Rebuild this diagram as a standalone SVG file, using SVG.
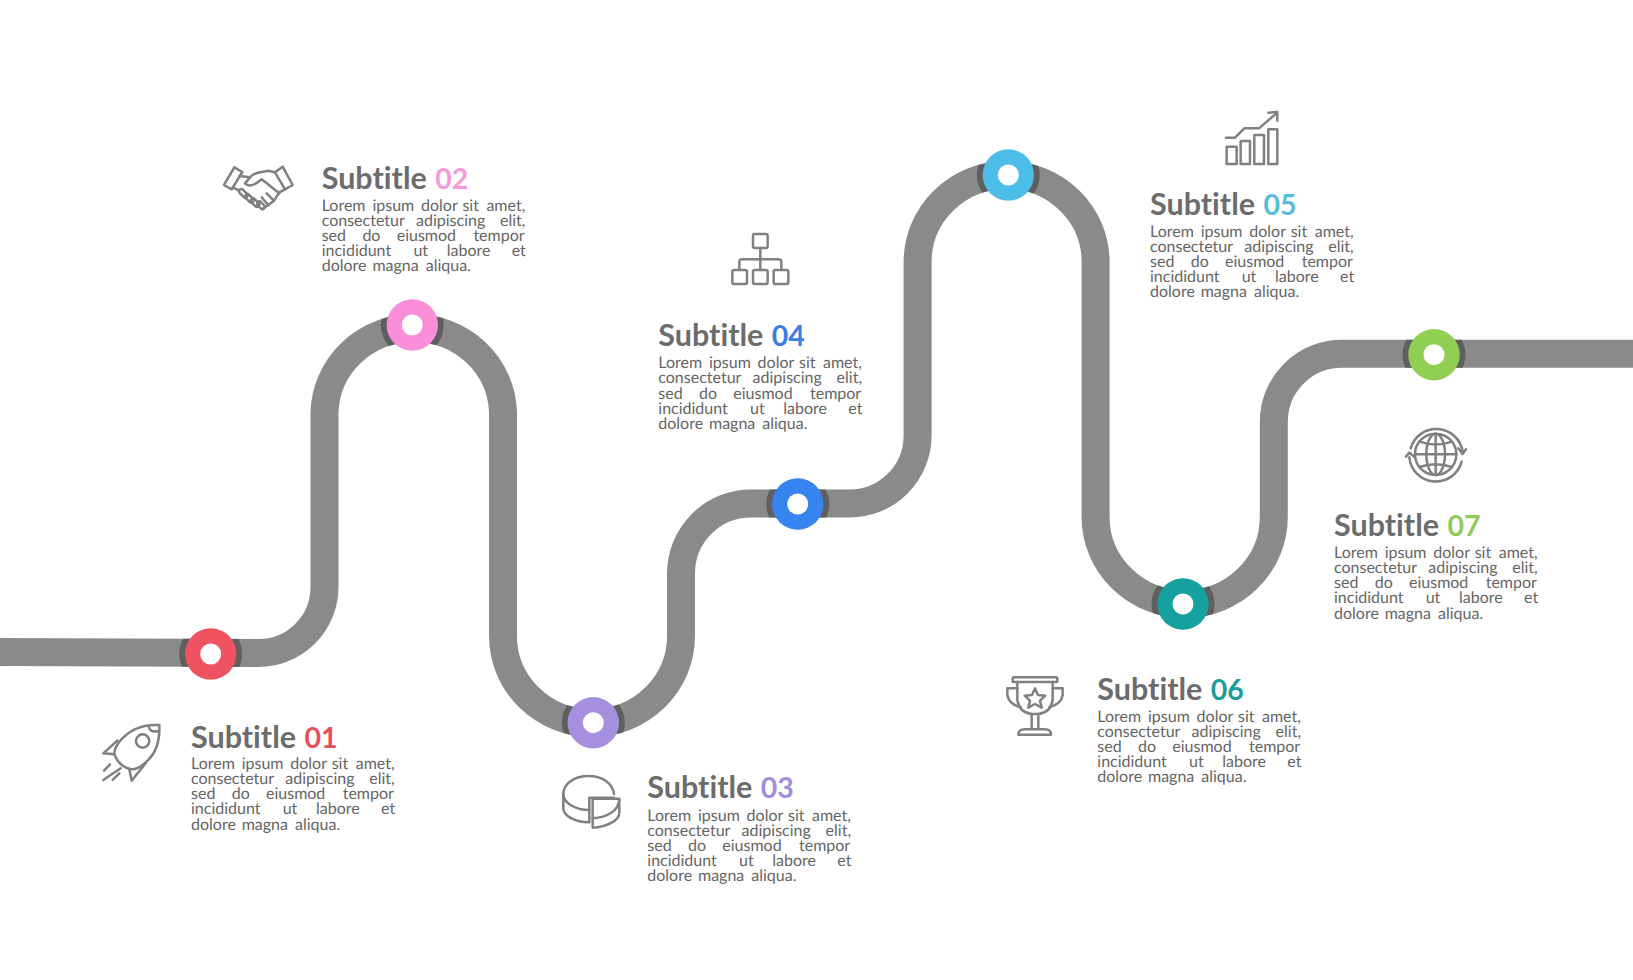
<svg xmlns="http://www.w3.org/2000/svg" width="1633" height="980" viewBox="0 0 1633 980">
<style>
.t{font-family:"Lato","Open Sans",sans-serif;font-size:30.5px;font-weight:700;fill:#6c6c6c;font-variant-ligatures:none}
.n{font-size:28.5px}
.b{font-family:"Lato","Open Sans",sans-serif;font-size:16px;fill:#656565;font-variant-ligatures:none;text-rendering:geometricPrecision}
.i{fill:none;stroke:#808080;stroke-width:7.5;stroke-linejoin:round;stroke-linecap:round}
.road{fill:none;stroke:#8a8a8a;stroke-width:28}
.sh{fill:#5f5f5f}
.hole{fill:#fff}
</style>
<defs>
<path id="roadPath" d="M0,652 L258,653 A66,66 0 0 0 324.5,587 V412 A89.3,87 0 0 1 503,412 V636 A89,87 0 0 0 681,636 V573 A70,70 0 0 1 751,503.5 H849.6 A68,68 0 0 0 917.6,436 V262 A89,87 0 0 1 1095.6,262 V517 A89,87 0 0 0 1273.8,517 V422 A68,68 0 0 1 1341.8,353.8 H1633"/>
<mask id="roadMask" maskUnits="userSpaceOnUse" x="0" y="0" width="1633" height="980"><use href="#roadPath" fill="none" stroke="#fff" stroke-width="28"/></mask>
</defs>
<rect width="1633" height="980" fill="#fff"/>
<g id="connectors">
<use href="#roadPath" class="road"/>
<g mask="url(#roadMask)">
<circle class="sh" cx="210.7" cy="654" r="31.5"/>
<circle class="sh" cx="412.3" cy="325" r="31.5"/>
<circle class="sh" cx="593.3" cy="722.7" r="31.5"/>
<circle class="sh" cx="797.7" cy="504" r="31.5"/>
<circle class="sh" cx="1008.3" cy="175" r="31.5"/>
<circle class="sh" cx="1183" cy="604" r="31.5"/>
<circle class="sh" cx="1434" cy="354.7" r="31.5"/>
</g>
</g>
<g id="node-01">
<circle cx="210.7" cy="654" r="25.7" fill="#ef5261"/><circle class="hole" cx="210.7" cy="654" r="10.5"/>
<g class="i" transform="translate(0,600) scale(.3333)">
<path d="M478,375 C425,372 385,392 358,425 C345,442 340,455 345,468 C355,490 370,503 392,507 C405,510 425,500 445,480 C470,455 480,420 478,375Z"/>
<circle cx="428" cy="423" r="20"/>
<path d="M447,382 C450,392 460,397 476,393"/>
<path d="M352,422 L310,460 L342,463"/><path d="M437,490 L395,542 L388,507"/>
<path d="M330,493 L312,512M362,505 L310,540M358,520 L338,540"/>
</g>
<text class="t" x="191" y="747.5">Subtitle <tspan class="n" x="304.5" fill="#e5505f">01</tspan></text>
<text class="b" y="768.8"><tspan x="191">Lorem</tspan><tspan x="241.7">ipsum</tspan><tspan x="290.3">dolor</tspan><tspan x="331.7">sit</tspan><tspan x="355.7">amet,</tspan></text>
<text class="b" y="784"><tspan x="191">consectetur</tspan><tspan x="285.3">adipiscing</tspan><tspan x="369.3">elit,</tspan></text>
<text class="b" y="799.2"><tspan x="191">sed</tspan><tspan x="231.7">do</tspan><tspan x="266">eiusmod</tspan><tspan x="342.7">tempor</tspan></text>
<text class="b" y="814.4"><tspan x="191">incididunt</tspan><tspan x="282.7">ut</tspan><tspan x="316">labore</tspan><tspan x="381">et</tspan></text>
<text class="b" y="829.6"><tspan x="191">dolore</tspan><tspan x="241.7">magna</tspan><tspan x="295">aliqua.</tspan></text>
</g>
<g id="node-02">
<circle cx="412.3" cy="325" r="25.7" fill="#fb8ed8"/><circle class="hole" cx="412.3" cy="325" r="10.5"/>
<g class="i" transform="translate(200,140) scale(.3333)">
<path d="M103,82 L72,135 L95,148 L127,96Z"/><path d="M248,80 L278,135 L255,148 L225,97Z"/>
<path d="M118,108 L150,112 L135,130 C150,145 170,130 185,118 L238,160"/>
<path d="M225,97 L205,92 C190,98 170,90 150,112"/>
<path d="M255,148 L238,157 L222,182 L205,195 L187,207"/>
<path d="M98,143 L115,150"/>
<rect x="123" y="145" width="14" height="30" rx="7" transform="rotate(-45 130 160)"/>
<rect x="141" y="160" width="14" height="30" rx="7" transform="rotate(-45 148 175)"/>
<rect x="158" y="173" width="14" height="30" rx="7" transform="rotate(-45 165 188)"/>
<rect x="176" y="183" width="14" height="26" rx="7" transform="rotate(-45 183 196)"/>
<path d="M222,182 L200,160M205,195 L185,172"/>
</g>
<text class="t" x="321.7" y="189">Subtitle <tspan class="n" x="435.2" fill="#f59ad9">02</tspan></text>
<text class="b" y="210.5"><tspan x="321.7">Lorem</tspan><tspan x="372.4">ipsum</tspan><tspan x="421">dolor</tspan><tspan x="462.4">sit</tspan><tspan x="486.4">amet,</tspan></text>
<text class="b" y="225.7"><tspan x="321.7">consectetur</tspan><tspan x="416">adipiscing</tspan><tspan x="500">elit,</tspan></text>
<text class="b" y="240.9"><tspan x="321.7">sed</tspan><tspan x="362.4">do</tspan><tspan x="396.7">eiusmod</tspan><tspan x="473.4">tempor</tspan></text>
<text class="b" y="256.1"><tspan x="321.7">incididunt</tspan><tspan x="413.4">ut</tspan><tspan x="446.7">labore</tspan><tspan x="511.7">et</tspan></text>
<text class="b" y="271.3"><tspan x="321.7">dolore</tspan><tspan x="372.4">magna</tspan><tspan x="425.7">aliqua.</tspan></text>
</g>
<g id="node-03">
<circle cx="593.3" cy="722.7" r="25.7" fill="#a78fe0"/><circle class="hole" cx="593.3" cy="722.7" r="10.5"/>
<g class="i" transform="translate(540,690) scale(.3333)">
<path d="M222,312 C218,282 190,258 146,258 C102,258 70,282 70,312 C70,338 105,360 148,360"/>
<path d="M148,323 H222 M148,323 V397 M70,312 V355 C70,378 105,397 148,397"/>
<path d="M158,326 H238 V368 C238,392 200,410 158,413Z"/>
<path d="M158,385 C200,382 235,365 238,328"/>
</g>
<text class="t" x="647.3" y="798">Subtitle <tspan class="n" x="760.8" fill="#a18ddd">03</tspan></text>
<text class="b" y="820.5"><tspan x="647.3">Lorem</tspan><tspan x="698">ipsum</tspan><tspan x="746.6">dolor</tspan><tspan x="788">sit</tspan><tspan x="812">amet,</tspan></text>
<text class="b" y="835.7"><tspan x="647.3">consectetur</tspan><tspan x="741.6">adipiscing</tspan><tspan x="825.6">elit,</tspan></text>
<text class="b" y="850.9"><tspan x="647.3">sed</tspan><tspan x="688">do</tspan><tspan x="722.3">eiusmod</tspan><tspan x="799">tempor</tspan></text>
<text class="b" y="866.1"><tspan x="647.3">incididunt</tspan><tspan x="739">ut</tspan><tspan x="772.3">labore</tspan><tspan x="837.3">et</tspan></text>
<text class="b" y="881.3"><tspan x="647.3">dolore</tspan><tspan x="698">magna</tspan><tspan x="751.3">aliqua.</tspan></text>
</g>
<g id="node-04">
<circle cx="797.7" cy="504" r="25.7" fill="#3584f0"/><circle class="hole" cx="797.7" cy="504" r="10.5"/>
<g class="i" transform="translate(640,220) scale(.3333)">
<rect x="339" y="42" width="44" height="42" rx="5"/><rect x="277" y="150" width="44" height="42" rx="5"/><rect x="339" y="150" width="44" height="42" rx="5"/><rect x="401" y="150" width="44" height="42" rx="5"/>
<path d="M361,84 V150 M298,150 V126 Q298,118 306,118 H416 Q424,118 424,126 V150"/>
</g>
<text class="t" x="658.3" y="345.7">Subtitle <tspan class="n" x="771.8" fill="#3a7fe0">04</tspan></text>
<text class="b" y="368.2"><tspan x="658.3">Lorem</tspan><tspan x="709">ipsum</tspan><tspan x="757.6">dolor</tspan><tspan x="799">sit</tspan><tspan x="823">amet,</tspan></text>
<text class="b" y="383.4"><tspan x="658.3">consectetur</tspan><tspan x="752.6">adipiscing</tspan><tspan x="836.6">elit,</tspan></text>
<text class="b" y="398.6"><tspan x="658.3">sed</tspan><tspan x="699">do</tspan><tspan x="733.3">eiusmod</tspan><tspan x="810">tempor</tspan></text>
<text class="b" y="413.8"><tspan x="658.3">incididunt</tspan><tspan x="750">ut</tspan><tspan x="783.3">labore</tspan><tspan x="848.3">et</tspan></text>
<text class="b" y="429"><tspan x="658.3">dolore</tspan><tspan x="709">magna</tspan><tspan x="762.3">aliqua.</tspan></text>
</g>
<g id="node-05">
<circle cx="1008.3" cy="175" r="25.7" fill="#4cbde8"/><circle class="hole" cx="1008.3" cy="175" r="10.5"/>
<g class="i" transform="translate(1140,100) scale(.3333)">
<rect x="260" y="140" width="30" height="52"/><rect x="302" y="123" width="28" height="69"/><rect x="343" y="105" width="29" height="87"/><rect x="385" y="88" width="27" height="104"/>
<path d="M258,113 H285 L313,85 H357 L412,38 M385,38 L412,36 V62"/>
</g>
<text class="t" x="1150" y="214.7">Subtitle <tspan class="n" x="1263.5" fill="#55bde0">05</tspan></text>
<text class="b" y="236.5"><tspan x="1150">Lorem</tspan><tspan x="1200.7">ipsum</tspan><tspan x="1249.3">dolor</tspan><tspan x="1290.7">sit</tspan><tspan x="1314.7">amet,</tspan></text>
<text class="b" y="251.7"><tspan x="1150">consectetur</tspan><tspan x="1244.3">adipiscing</tspan><tspan x="1328.3">elit,</tspan></text>
<text class="b" y="266.9"><tspan x="1150">sed</tspan><tspan x="1190.7">do</tspan><tspan x="1225">eiusmod</tspan><tspan x="1301.7">tempor</tspan></text>
<text class="b" y="282.1"><tspan x="1150">incididunt</tspan><tspan x="1241.7">ut</tspan><tspan x="1275">labore</tspan><tspan x="1340">et</tspan></text>
<text class="b" y="297.3"><tspan x="1150">dolore</tspan><tspan x="1200.7">magna</tspan><tspan x="1254">aliqua.</tspan></text>
</g>
<g id="node-06">
<circle cx="1183" cy="604" r="25.7" fill="#16a09e"/><circle class="hole" cx="1183" cy="604" r="10.5"/>
<g class="i" transform="translate(990,660) scale(.3333)">
<rect x="68" y="52" width="134" height="14" rx="4"/>
<path d="M82,66 V120 Q88,158 125,162 H145 Q182,158 188,120 V66"/>
<path d="M82,85 H52 V105 Q56,132 92,142 M188,85 H218 V105 Q214,132 178,142"/>
<path d="M125,162 V208 M145,162 V208 M85,224 Q85,208 105,208 H165 Q183,208 183,224Z"/>
<path d="M135,85 L144,105 L166,107 L150,122 L155,143 L135,132 L115,143 L120,122 L104,107 L126,105Z"/>
</g>
<text class="t" x="1097.3" y="699.7">Subtitle <tspan class="n" x="1210.8" fill="#1a9d9b">06</tspan></text>
<text class="b" y="721.5"><tspan x="1097.3">Lorem</tspan><tspan x="1148">ipsum</tspan><tspan x="1196.6">dolor</tspan><tspan x="1238">sit</tspan><tspan x="1262">amet,</tspan></text>
<text class="b" y="736.7"><tspan x="1097.3">consectetur</tspan><tspan x="1191.6">adipiscing</tspan><tspan x="1275.6">elit,</tspan></text>
<text class="b" y="751.9"><tspan x="1097.3">sed</tspan><tspan x="1138">do</tspan><tspan x="1172.3">eiusmod</tspan><tspan x="1249">tempor</tspan></text>
<text class="b" y="767.1"><tspan x="1097.3">incididunt</tspan><tspan x="1189">ut</tspan><tspan x="1222.3">labore</tspan><tspan x="1287.3">et</tspan></text>
<text class="b" y="782.3"><tspan x="1097.3">dolore</tspan><tspan x="1148">magna</tspan><tspan x="1201.3">aliqua.</tspan></text>
</g>
<g id="node-07">
<circle cx="1434" cy="354.7" r="25.7" fill="#8fd053"/><circle class="hole" cx="1434" cy="354.7" r="10.5"/>
<g class="i" transform="translate(1320,320) scale(.3333)">
<circle cx="347" cy="403" r="62"/><ellipse cx="347" cy="403" rx="28" ry="62"/>
<path d="M347,341 V465 M285,403 H409 M298,365 Q347,382 396,365 M298,441 Q347,424 396,441"/>
<path d="M272,385 A80,80 0 0 1 428,395 M415,385 L428,402 L438,388"/>
<path d="M425,425 A80,80 0 0 1 268,412 M258,410 L268,398 L282,410"/>
</g>
<text class="t" x="1334" y="535.7">Subtitle <tspan class="n" x="1447.5" fill="#8ecb5c">07</tspan></text>
<text class="b" y="557.8"><tspan x="1334">Lorem</tspan><tspan x="1384.7">ipsum</tspan><tspan x="1433.3">dolor</tspan><tspan x="1474.7">sit</tspan><tspan x="1498.7">amet,</tspan></text>
<text class="b" y="573"><tspan x="1334">consectetur</tspan><tspan x="1428.3">adipiscing</tspan><tspan x="1512.3">elit,</tspan></text>
<text class="b" y="588.2"><tspan x="1334">sed</tspan><tspan x="1374.7">do</tspan><tspan x="1409">eiusmod</tspan><tspan x="1485.7">tempor</tspan></text>
<text class="b" y="603.4"><tspan x="1334">incididunt</tspan><tspan x="1425.7">ut</tspan><tspan x="1459">labore</tspan><tspan x="1524">et</tspan></text>
<text class="b" y="618.6"><tspan x="1334">dolore</tspan><tspan x="1384.7">magna</tspan><tspan x="1438">aliqua.</tspan></text>
</g>
</svg>
